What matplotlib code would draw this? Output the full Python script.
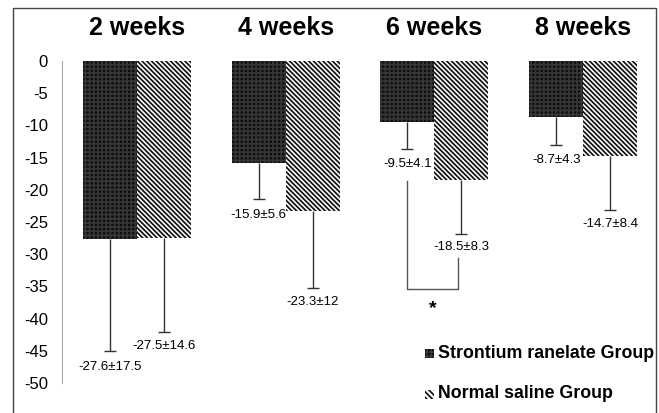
import matplotlib
matplotlib.use("Agg")
import matplotlib.pyplot as plt
import matplotlib.patches as mpatches
import numpy as np

plt.rcParams['font.family'] = ['Liberation Sans', 'DejaVu Sans']
plt.rcParams['hatch.linewidth'] = 1.25

# data
weeks = ["2 weeks", "4 weeks", "6 weeks", "8 weeks"]
sr_mean = [-27.6, -15.9, -9.5, -8.7]
sr_sd = [17.5, 5.6, 4.1, 4.3]
ns_mean = [-27.5, -23.3, -18.5, -14.7]
ns_sd = [14.6, 12, 8.3, 8.4]
sr_labels = ["-27.6±17.5", "-15.9±5.6", "-9.5±4.1", "-8.7±4.3"]
ns_labels = ["-27.5±14.6", "-23.3±12", "-18.5±8.3", "-14.7±8.4"]
yticks = [0, -5, -10, -15, -20, -25, -30, -35, -40, -45, -50]
legend_names = ["Strontium ranelate Group", "Normal saline Group"]

W, H = 659, 413
fig = plt.figure(figsize=(W / 100, H / 100), dpi=100)
ax = fig.add_axes([62 / W, 30 / H, 583 / W, 322 / H])

x = np.arange(len(weeks))
bw = 0.3625
sr_hatch = '++++'
ns_hatch = '\\' * 7

# bars: dark dotted grid and dense back diagonal hatch
ax.bar(x - bw / 2, sr_mean, bw, color='#0e0e0e', edgecolor='#363636',
       hatch=sr_hatch, linewidth=0, zorder=3)
ax.bar(x + bw / 2, ns_mean, bw, color='white', edgecolor='#111111',
       hatch=ns_hatch, linewidth=0, zorder=3)

# downward error bars only, with a cap at the lower end
sr_low = np.array(sr_mean) - np.array(sr_sd)
ns_low = np.array(ns_mean) - np.array(ns_sd)
for xs, top, low in [(x - bw / 2, sr_mean, sr_low), (x + bw / 2, ns_mean, ns_low)]:
    ax.vlines(xs, top, low, color='#333333', lw=1, zorder=2)
    ax.plot(xs, low, ls='none', marker='_', ms=8, mew=1, color='#333333', zorder=2)

for i in range(len(weeks)):
    ax.annotate(sr_labels[i], (x[i] - bw / 2, sr_low[i]),
                xytext=(0, -11), textcoords='offset points',
                ha='center', va='center', fontsize=9.5)
    ax.annotate(ns_labels[i], (x[i] + bw / 2, ns_low[i]),
                xytext=(0, -10), textcoords='offset points',
                ha='center', va='center', fontsize=9.5)
    ax.text(x[i], 5.2, weeks[i], ha='center', va='center',
            fontsize=18, fontweight='bold', clip_on=False)

# significance bracket at 6 weeks
bx0, bx1 = x[2] - bw / 2, x[2] + 0.157
ax.plot([bx0, bx0, bx1, bx1], [-18.6, -35.4, -35.4, -30.6],
        color='#555555', lw=1, zorder=2)
ax.text(x[2] - 0.01, -38.4, "*", ha='center', va='center', fontsize=14,
        fontweight='bold')

ax.set_ylim(-50, 0)
ax.set_xlim(-0.503, 3.416)
ax.set_yticks(yticks)
ax.set_yticklabels([str(t) for t in yticks], fontsize=12)
ax.tick_params(axis='y', length=0, pad=10)
ax.set_xticks([])
for s in ['top', 'right', 'bottom']:
    ax.spines[s].set_visible(False)
ax.spines['left'].set_color('#aaaaaa')

# legend drawn by hand
leg_y = [353, 394]
hatches = [sr_hatch, '\\' * 6]
faces = ['#0e0e0e', 'white']
edges = ['#363636', '#111111']
for k in range(2):
    yy = (H - leg_y[k]) / H
    fig.patches.append(mpatches.Rectangle((425 / W, yy - 4.5 / H), 9 / W, 9 / H,
                                          transform=fig.transFigure,
                                          facecolor=faces[k], edgecolor=edges[k],
                                          hatch=hatches[k], linewidth=0))
    fig.text(438 / W, yy, legend_names[k], ha='left', va='center',
             fontsize=12.8, fontweight='bold')

# outer frame
fig.patches.append(mpatches.Rectangle((13 / W, -0.05), 643 / W, (H - 8) / H + 0.05,
                                      transform=fig.transFigure, fill=False,
                                      edgecolor='#444444', linewidth=1))

fig.savefig("out.png", dpi=100)
